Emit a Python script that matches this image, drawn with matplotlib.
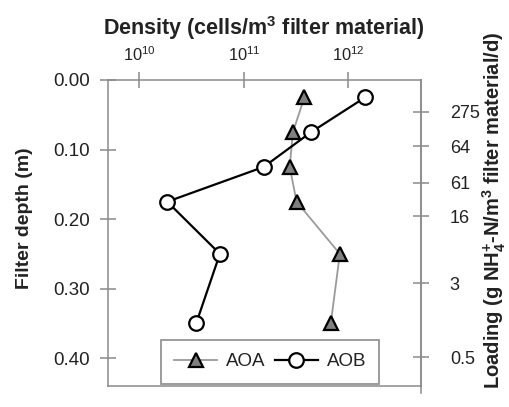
import matplotlib
matplotlib.use("Agg")
import matplotlib.pyplot as plt
from matplotlib.lines import Line2D
from matplotlib.ticker import NullLocator, FixedLocator

plt.rcParams['font.family'] = ['Liberation Sans', 'DejaVu Sans']
plt.rcParams['mathtext.fontset'] = 'custom'
plt.rcParams['mathtext.rm'] = 'Liberation Sans'
plt.rcParams['mathtext.bf'] = 'Liberation Sans:bold'
plt.rcParams['mathtext.it'] = 'Liberation Sans:italic'

# Sampling depths (m) and cell densities (cells/m3 filter material)
depth = [0.025, 0.075, 0.125, 0.175, 0.25, 0.35]
aoa = [3.8e11, 2.95e11, 2.75e11, 3.2e11, 8.3e11, 6.8e11]
aob = [1.45e12, 4.4e11, 1.55e11, 1.85e10, 5.9e10, 3.5e10]

# Ammonium loading per filter layer (right axis)
loading_pos = [0.046, 0.095, 0.148, 0.196, 0.292, 0.399]
loading_labels = ['275', '64', '61', '16', '3', '0.5']

depth_ticks = [0.0, 0.1, 0.2, 0.3, 0.4]

spine_c = '#8a8a8a'
text_c = '#222222'

fig = plt.figure(figsize=(5.10, 4.07), dpi=100)
ax = fig.add_axes([108/510, 21/407, 313/510, 306/407])

ax.plot(aoa, depth, color='#9a9a9a', lw=1.3, marker='^', ms=10,
        mfc='#808080', mec='black', mew=1.6, label='AOA', zorder=3)
ax.plot(aob, depth, color='black', lw=1.6, marker='o', ms=10.5,
        mfc='white', mec='black', mew=1.6, label='AOB', zorder=4)

ax.set_xscale('log')
ax.set_xlim(10**9.70, 10**12.696)
ax.set_ylim(0.44, 0.0)
ax.xaxis.set_major_locator(FixedLocator([1e10, 1e11, 1e12]))
ax.xaxis.set_minor_locator(NullLocator())
ax.xaxis.tick_top()
ax.xaxis.set_label_position('top')
ax.set_yticks(depth_ticks)
ax.set_yticklabels([f'{v:.2f}' for v in depth_ticks])

for s in ax.spines.values():
    s.set_color(spine_c)
    s.set_linewidth(1.1)

ax.tick_params(axis='both', direction='inout', length=11.5, width=1.1,
               color=spine_c, labelcolor=text_c)
ax.tick_params(axis='y', labelsize=13.5, pad=7)
ax.tick_params(axis='x', labelsize=11.8, pad=6)

ax.set_xlabel('Density (cells/m$^\\mathbf{3}$ filter material)',
              fontsize=15.5, fontweight='bold', color=text_c)
ax.xaxis.set_label_coords(0.497, 1.147)
ax.set_ylabel('Filter depth (m)', fontsize=14, fontweight='bold', color=text_c)
ax.yaxis.set_label_coords(-0.24, 0.547)

ax2 = ax.twinx()
ax2.set_ylim(0.44, 0.0)
ax2.set_yticks(loading_pos)
ax2.set_yticklabels(loading_labels)
ax2.yaxis.set_minor_locator(NullLocator())
for s in ax2.spines.values():
    s.set_visible(False)
ax2.tick_params(axis='y', direction='inout', length=11.5, width=1.1,
                color=spine_c, labelcolor=text_c, labelsize=13, pad=15)
ax2.set_ylabel('Loading (g NH$_\\mathbf{4}^\\mathbf{+}$-N/m$^\\mathbf{3}$ filter material/d)',
               fontsize=14.5, fontweight='bold', color=text_c)
ax2.yaxis.set_label_coords(1.19, 0.575)

# right axis line runs slightly past the bottom frame
fig.add_artist(Line2D([421/510, 421/510], [14/407, 327/407],
                      color=spine_c, lw=1.1, transform=fig.transFigure))

leg = ax.legend(loc='lower left', bbox_to_anchor=(0.169, 0.008), ncol=2,
                frameon=True, fancybox=False, borderaxespad=0,
                fontsize=13.5, handlelength=2.3, handletextpad=0.48,
                columnspacing=0.48, borderpad=0.7, labelcolor=text_c)
leg.get_frame().set_edgecolor('#7a7a7a')
leg.get_frame().set_linewidth(1.3)
leg.set_zorder(5)

fig.savefig('out.png', dpi=100)
